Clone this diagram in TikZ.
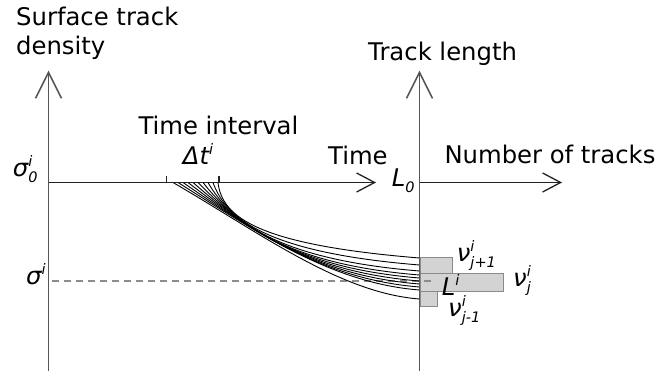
\documentclass[tikz,border=0pt]{standalone}
\usepackage{fontspec}
\setmainfont{DejaVu Sans}
\usetikzlibrary{arrows.meta}
\definecolor{axisv}{HTML}{555555}
\definecolor{axish}{HTML}{222222}
\definecolor{barfill}{HTML}{D3D3D3}
\definecolor{barline}{HTML}{8A8A8A}
\definecolor{dashcol}{HTML}{8C8C8C}
\newcommand\subfnt{\fontsize{14.5}{14.5}\selectfont}
\newcommand\supsub[2]{\makebox[0pt][l]{\raisebox{0.45em}{\subfnt #1}}\raisebox{-0.22em}{\subfnt #2}}
\newcommand\supo[1]{\raisebox{0.45em}{\subfnt #1}}
\newcommand\subo[1]{\raisebox{-0.22em}{\subfnt #1}}
\begin{document}
\begin{tikzpicture}[x=1pt,y=-1pt,
  lbl/.style={anchor=base west,inner sep=0pt,font=\fontsize{24.3}{29}\selectfont},
  vaxis/.style={draw=axisv,line width=1.5pt,-{Straight Barb[length=26pt,width=26pt]}},
  haxis/.style={draw=axish,line width=1.3pt,-{Straight Barb[length=18pt,width=19pt]}},
  bar/.style={fill=barfill,draw=barline,line width=0.8pt},
  track/.style={draw=black,line width=0.9pt},
  tick/.style={draw=axish,line width=1.1pt}]
\useasboundingbox (0,0) rectangle (670,371);
% bars
\draw[bar] (420.5,257.3) rectangle (452.7,273.3);
\draw[bar] (420.5,273.3) rectangle (503.3,291.7);
\draw[bar] (420.5,291.7) rectangle (437.7,306.7);
% dashed level
\coordinate (dl) at (51.5,281);
\coordinate (dr) at (432,281);
\draw[dashcol,line width=1.1pt,dash pattern=on 7pt off 5pt] (dl) -- (dr);
% tracks
\foreach \k/\e in {0/299,1/290,2/287,3/284,4/281,5/278,6/275,7/271,8/265,9/258}{
  \pgfmathsetmacro\f{\k/9}
  \pgfmathsetmacro\sx{173+5*\k}
  \pgfmathsetmacro\ax{260-38*\f}
  \pgfmathsetmacro\ay{233-15*\f}
  \pgfmathsetmacro\bx{340-80*\f}
  \pgfmathsetmacro\by{\e-6-7*\f}
  \draw[track] (\sx,182.5) .. controls (\ax,\ay) and (\bx,\by) .. (419.5,\e);
}
% axes
\coordinate (O1) at (48.5,182.5);
\coordinate (O2) at (419.5,182.5);
\coordinate (B1) at (48.5,371);
\coordinate (B2) at (419.5,371);
\coordinate (T1) at (48.5,70.7);
\coordinate (T2) at (419.5,70.7);
\coordinate (E1) at (376,182.5);
\coordinate (E2) at (562,182.5);
\draw[vaxis] (B1) -- (T1);
\draw[vaxis] (B2) -- (T2);
\draw[haxis] (O1) -- (E1);
\draw[haxis] (O2) -- (E2);
% ticks
\coordinate (ta) at (166.8,182.5);
\coordinate (tb) at (219,182.5);
\draw[tick] (ta) -- ++(0,-6.5);
\draw[tick] (tb) -- ++(0,-6.5);
% labels
\node[lbl] (std) at (16,26) {Surface track};
\node[lbl] (std2) at (16,55) {density};
\node[lbl] (tl) at (368,61) {Track length};
\node[lbl] (ti) at (138.3,134.3) {Time interval};
\node[lbl] (dt) at (182.7,165) {\itshape Δt\supo{i}};
\node[lbl] (tm) at (328,164.3) {Time};
\node[lbl] (nt) at (444.3,163.3) {Number of tracks};
\node[lbl] (s0) at (12.7,177) {\itshape σ\supsub{i}{0}};
\node[lbl] (si) at (26,285) {\itshape σ\supo{i}};
\node[lbl] (l0) at (391.7,186.7) {\itshape L\subo{0}};
\node[lbl] (li) at (441.7,296) {\itshape L\supo{i}};
\node[lbl] (n1) at (456.7,262) {\itshape ν\supsub{i}{j+1}};
\node[lbl] (n2) at (513,287) {\itshape ν\supsub{i}{j}};
\node[lbl] (n3) at (448,317) {\itshape ν\supsub{i}{j-1}};
\end{tikzpicture}
\end{document}
